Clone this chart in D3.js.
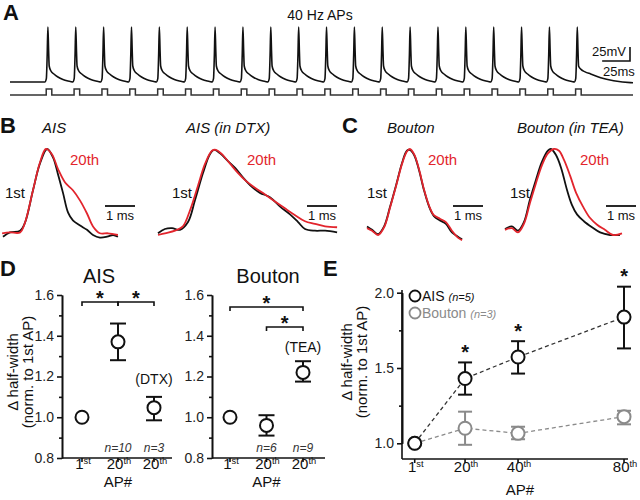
<!DOCTYPE html>
<html><head><meta charset="utf-8">
<script src="https://cdn.jsdelivr.net/npm/d3@7"></script>
<style>body{margin:0;background:#fff}svg{display:block}text{font-family:"Liberation Sans",Arial,Helvetica,sans-serif}</style>
</head><body><svg id="c" width="640" height="500"></svg>
<script>
// ---------------- DATA ----------------
// Panel A: 40 Hz train (ms of each AP peak), AP waveform pieces (ms rel. to peak, mV)
const spikeTimes = [0,25,50,75,100,125,150,175,200,225,250,275,300,325,350,375,400,425,450,475];
const restMV = -70;
const apRise  = [[-2.7,-70],[-1.4,-64],[-0.6,-20],[0,28],[0.63,-13],[1.17,-41.5]];
const apDecay = [[2.7,-50.4],[5.4,-55.7],[9,-61.1],[13.5,-65.5],[18,-68.2],[21.8,-69.8]];
const apTail  = [[3,-47],[7,-52],[12,-55.7],[21,-62.3],[32.6,-67.7],[47.8,-71.2],[50,-71.3]];
const stimWindow = [-1.5, 3.5];

// Panels B/C: normalized AP waveforms [ms, amplitude]
const aisFirst = [[0,-0.02],[0.23,0.03],[0.57,0.05],[0.73,0.14],[1.0,0.52],[1.23,0.83],[1.47,1.0],[1.67,0.9],[1.83,0.71],[2.0,0.49],[2.17,0.26],[2.33,0.17],[2.57,0.11],[2.8,0.06],[3.0,0.0],[3.23,-0.03],[3.47,-0.02],[3.67,0.0],[3.83,-0.02]];
const aisTwentieth = [[-0.03,0.02],[0.23,0.03],[0.57,0.03],[0.73,0.14],[1.0,0.52],[1.23,0.84],[1.43,1.0],[1.63,0.94],[1.83,0.77],[2.07,0.61],[2.33,0.52],[2.57,0.40],[2.8,0.25],[3.0,0.10],[3.23,0.02],[3.5,0.02],[3.83,0.0]];
const dtxFirst = [[0,0.02],[0.23,0.07],[0.47,0.08],[0.73,0.06],[1.0,0.15],[1.23,0.40],[1.5,0.72],[1.73,0.94],[1.87,0.99],[2.07,0.95],[2.33,0.86],[2.57,0.78],[2.83,0.67],[3.13,0.56],[3.4,0.49],[3.73,0.44],[4.07,0.33],[4.4,0.24],[4.67,0.15],[4.9,0.07],[5.23,0.05],[5.57,0.05],[5.97,0.03]];
const dtxTwentieth = [[0,0.0],[0.23,0.02],[0.57,0.05],[0.83,0.10],[1.07,0.29],[1.33,0.57],[1.57,0.83],[1.8,0.98],[1.93,0.99],[2.13,0.94],[2.4,0.83],[2.67,0.72],[2.93,0.63],[3.23,0.55],[3.57,0.47],[3.9,0.39],[4.23,0.31],[4.57,0.23],[4.9,0.16],[5.23,0.13],[5.57,0.10],[5.97,0.09]];
const boutonFirst = [[0,0.10],[0.17,0.06],[0.37,0.01],[0.57,0.10],[0.77,0.33],[0.97,0.58],[1.17,0.84],[1.33,0.98],[1.43,0.99],[1.57,0.93],[1.73,0.76],[1.9,0.52],[2.07,0.33],[2.23,0.22],[2.43,0.17],[2.63,0.13],[2.83,0.03],[3.03,-0.02],[3.17,-0.05]];
const boutonTwentieth = [[0,0.08],[0.17,0.05],[0.37,0.0],[0.57,0.09],[0.77,0.32],[0.97,0.57],[1.17,0.83],[1.33,0.97],[1.43,1.0],[1.57,0.94],[1.73,0.77],[1.9,0.53],[2.07,0.34],[2.23,0.23],[2.43,0.19],[2.63,0.15],[2.83,0.05],[3.03,-0.03],[3.17,-0.06]];
const teaFirst = [[0,0.07],[0.23,0.10],[0.43,0.05],[0.63,0.15],[0.83,0.41],[1.03,0.64],[1.23,0.85],[1.43,0.98],[1.53,1.0],[1.7,0.93],[1.87,0.78],[2.07,0.52],[2.23,0.35],[2.4,0.24],[2.63,0.16],[2.9,0.09],[3.17,0.03],[3.5,0.0],[3.83,0.0]];
const teaTwentieth = [[0,0.06],[0.23,0.08],[0.43,0.03],[0.63,0.13],[0.83,0.37],[1.03,0.60],[1.23,0.81],[1.43,0.95],[1.63,1.0],[1.8,0.98],[1.97,0.87],[2.17,0.69],[2.37,0.49],[2.6,0.33],[2.83,0.20],[3.07,0.12],[3.33,0.06],[3.6,0.0],[3.9,0.02]];

// Panel D
const dCategories = ["1st","20th","20th"];
const dTicks = [0.8,1.0,1.2,1.4,1.6];
const dMinorTicks = [0.9,1.1,1.3,1.5];
const dAisMean = [1.0, 1.37, 1.047];
const dAisLow  = [null, 1.28, 0.985];
const dAisHigh = [null, 1.46, 1.10];
const dAisN = ["", "n=10", "n=3"];
const dBoutonMean = [1.0, 0.96, 1.22];
const dBoutonLow  = [null, 0.91, 1.175];
const dBoutonHigh = [null, 1.01, 1.275];
const dBoutonN = ["", "n=6", "n=9"];

// Panel E
const eAPs = [1, 20, 40, 80];
const eLabels = ["1st","20th","40th","80th"];
const eTicks = [1.0, 1.5, 2.0];
const eMinorTicks = [1.25, 1.75];
const eAisMean = [1.0, 1.43, 1.573, 1.838];
const eAisLow  = [null, 1.323, 1.463, 1.63];
const eAisHigh = [null, 1.537, 1.678, 2.04];
const eBoutonMean = [1.0, 1.10, 1.066, 1.177];
const eBoutonLow  = [null, 0.99, 1.027, 1.126];
const eBoutonHigh = [null, 1.21, 1.11, 1.216];
const eStars = [false, true, true, true];

// ---------------- DRAW ----------------
const BLACK = "#111", RED = "#e2252d", GRAY = "#8a8a8a";
const svg = d3.select("#c");
svg.append("rect").attr("width",640).attr("height",500).attr("fill","#fff");

function txt(g, x, y, s, o = {}) {
  const t = g.append("text").attr("x", x).attr("y", y).text(s)
    .attr("font-size", o.size || 14).attr("fill", o.fill || BLACK)
    .attr("text-anchor", o.anchor || "start");
  if (o.bold) t.attr("font-weight", "bold");
  if (o.italic) t.attr("font-style", "italic");
  return t;
}
function supText(g, x, y, label, size, fill) {
  const m = label.match(/^(\d+)(\D+)$/);
  const t = g.append("text").attr("x", x).attr("y", y).attr("text-anchor", "middle")
    .attr("font-size", size).attr("fill", fill || BLACK);
  t.append("tspan").text(m[1]);
  t.append("tspan").attr("dy", -5).attr("font-size", size * 0.62).text(m[2]);
}
function star(g, cx, cy) {
  txt(g, cx, cy + 11.5, "*", {size: 20, bold: true, anchor: "middle"});
}

// ----- Panel A -----
const gA = svg.append("g");
txt(gA, 3, 20, "A", {size: 22, bold: true});
txt(gA, 320, 20, "40 Hz APs", {size: 14, anchor: "middle"});
const xA = d3.scaleLinear().domain([-34, 525]).range([10, 633]);
const yA = d3.scaleLinear().domain([restMV, 28]).range([82, 27]);
const trace = [[-34, restMV]];
spikeTimes.forEach((t, i) => {
  apRise.forEach(p => trace.push([t + p[0], p[1]]));
  (i === spikeTimes.length - 1 ? apTail : apDecay).forEach(p => trace.push([t + p[0], p[1]]));
});
gA.append("path").attr("d", d3.line().x(d => xA(d[0])).y(d => yA(d[1])).curve(d3.curveMonotoneX)(trace))
  .attr("fill", "none").attr("stroke", BLACK).attr("stroke-width", 1.6);
const yStim = d3.scaleLinear().domain([0, 1]).range([95, 89]);
const stim = [[-34, 0]];
spikeTimes.forEach(t => {
  stim.push([t + stimWindow[0], 0], [t + stimWindow[0], 1], [t + stimWindow[1], 1], [t + stimWindow[1], 0]);
});
stim.push([525, 0]);
gA.append("path").attr("d", d3.line().x(d => xA(d[0])).y(d => yStim(d[1]))(stim))
  .attr("fill", "none").attr("stroke", "#333").attr("stroke-width", 1.5);
// scale bars 25 mV / 25 ms
const sbX = 630, sbY = 61;
gA.append("path").attr("d", `M${sbX},${sbY - (yA(restMV) - yA(restMV + 25))}V${sbY}H${sbX - (xA(25) - xA(0))}`)
  .attr("fill", "none").attr("stroke", BLACK).attr("stroke-width", 1.6);
txt(gA, 626, 56, "25mV", {size: 13, anchor: "end"});
txt(gA, 603, 76, "25ms", {size: 13});

// ----- Panels B / C -----
const gB = svg.append("g");
txt(gB, 0, 133, "B", {size: 22, bold: true});
txt(gB, 342, 133, "C", {size: 22, bold: true});
const tracePanels = [
  {x0: 3,   title: "AIS",             tx: 42,  first: aisFirst,    twentieth: aisTwentieth,    l1: 5,   l20: 70,  bar: 105},
  {x0: 158, title: "AIS (in DTX)",    tx: 186, first: dtxFirst,    twentieth: dtxTwentieth,    l1: 172, l20: 247, bar: 307},
  {x0: 367, title: "Bouton",          tx: 387, first: boutonFirst, twentieth: boutonTwentieth, l1: 367, l20: 428, bar: 453},
  {x0: 505, title: "Bouton (in TEA)", tx: 517, first: teaFirst,    twentieth: teaTwentieth,    l1: 510, l20: 580, bar: 606}
];
tracePanels.forEach(p => {
  const x = d3.scaleLinear().domain([0, 1]).range([p.x0, p.x0 + 30]);
  const y = d3.scaleLinear().domain([0, 1]).range([235, 149]);
  const ln = d3.line().x(d => x(d[0])).y(d => y(d[1])).curve(d3.curveCatmullRom.alpha(0.5));
  gB.append("path").attr("d", ln(p.first)).attr("fill", "none").attr("stroke", BLACK).attr("stroke-width", 1.8);
  gB.append("path").attr("d", ln(p.twentieth)).attr("fill", "none").attr("stroke", RED).attr("stroke-width", 1.8);
  txt(gB, p.tx, 133, p.title, {size: 15, italic: true});
  txt(gB, p.l1, 198, "1st", {size: 15});
  txt(gB, p.l20, 165, "20th", {size: 15, fill: RED});
  const w = x(1) - x(0);
  gB.append("line").attr("x1", p.bar).attr("x2", p.bar + w).attr("y1", 206).attr("y2", 206)
    .attr("stroke", BLACK).attr("stroke-width", 1.8);
  txt(gB, p.bar + w / 2, 220, "1 ms", {size: 13, anchor: "middle"});
});

// ----- common axis styling -----
function styleAxis(sel) {
  sel.select(".domain").attr("stroke", BLACK).attr("stroke-width", 1.6);
  sel.selectAll(".tick line").attr("stroke", BLACK).attr("stroke-width", 1.6);
  sel.selectAll(".tick text").attr("font-size", 14).attr("fill", "#222")
    .attr("font-family", '"Liberation Sans",Arial,sans-serif');
}
function yTitle(g, x1, x2, cy) {
  txt(g, 0, 0, "\u0394 half-width", {size: 15, anchor: "middle"}).attr("transform", `translate(${x1},${cy}) rotate(-90)`);
  txt(g, 0, 0, "(norm. to 1st AP)", {size: 15, anchor: "middle"}).attr("transform", `translate(${x2},${cy}) rotate(-90)`);
}
function errorBars(g, xs, mean, lo, hi, color, cap, r) {
  mean.forEach((m, i) => {
    if (lo[i] !== null) {
      g.append("line").attr("x1", xs[i]).attr("x2", xs[i]).attr("y1", hi[1][i]).attr("y2", lo[1][i])
        .attr("stroke", color).attr("stroke-width", 2);
      [hi[1][i], lo[1][i]].forEach(yy => g.append("line").attr("x1", xs[i] - cap).attr("x2", xs[i] + cap)
        .attr("y1", yy).attr("y2", yy).attr("stroke", color).attr("stroke-width", 2));
    }
  });
  mean.forEach((m, i) => {
    g.append("circle").attr("cx", xs[i]).attr("cy", m).attr("r", r)
      .attr("fill", "#fff").attr("stroke", color).attr("stroke-width", 2);
  });
}

// ----- Panel D -----
const gD = svg.append("g");
txt(gD, 0, 276, "D", {size: 22, bold: true});
yTitle(gD, 18, 33, 372);
const yD = d3.scaleLinear().domain([0.8, 1.6]).range([458, 295]);
function drawD(cfg) {
  const x = d3.scalePoint().domain(d3.range(dCategories.length)).range(cfg.xr);
  const g = gD.append("g");
  g.append("g").attr("transform", `translate(${cfg.ax},0)`)
    .call(d3.axisLeft(yD).tickValues(dTicks).tickFormat(d3.format(".1f")).tickSize(5).tickSizeOuter(0).tickPadding(3))
    .call(styleAxis);
  g.append("g").attr("transform", `translate(${cfg.ax},0)`)
    .call(d3.axisLeft(yD).tickValues(dMinorTicks).tickFormat("").tickSize(3).tickSizeOuter(0))
    .call(styleAxis);
  g.append("line").attr("x1", cfg.ax).attr("x2", cfg.xend).attr("y1", yD(0.8)).attr("y2", yD(0.8))
    .attr("stroke", BLACK).attr("stroke-width", 1.6);
  dCategories.forEach((c, i) => {
    g.append("line").attr("x1", x(i)).attr("x2", x(i)).attr("y1", yD(0.8)).attr("y2", yD(0.8) + 4)
      .attr("stroke", BLACK).attr("stroke-width", 1.6);
    supText(g, x(i) + 1, 469, c, 15);
    if (cfg.n[i]) txt(g, x(i), 452, cfg.n[i], {size: 12, italic: true, anchor: "middle", fill: "#333"});
  });
  txt(g, x(1), 487, "AP#", {size: 15, anchor: "middle"});
  txt(g, cfg.titleX, 283, cfg.title, {size: 20, anchor: "middle"});
  const xs = dCategories.map((c, i) => x(i));
  errorBars(g, xs, cfg.mean.map(v => yD(v)), [null, cfg.lo.map(v => v === null ? null : yD(v))],
    [null, cfg.hi.map(v => v === null ? null : yD(v))], BLACK, 8, 6.5);
  txt(g, x(2), cfg.drugY, cfg.drug, {size: 14, anchor: "middle"});
  cfg.brackets.forEach(b => {
    g.append("path").attr("d", `M${x(b[0])},${b[2] + 4}V${b[2]}H${x(b[1])}V${b[2] + 4}`)
      .attr("fill", "none").attr("stroke", BLACK).attr("stroke-width", 1.6);
    star(g, (x(b[0]) + x(b[1])) / 2, b[2] - 9);
  });
}
drawD({ax: 62, xend: 172, xr: [82, 154], title: "AIS", titleX: 99, mean: dAisMean, lo: dAisLow, hi: dAisHigh,
  n: dAisN, drug: "(DTX)", drugY: 384, brackets: [[0, 1, 302], [1, 2, 302]]});
drawD({ax: 212, xend: 325, xr: [230, 303], title: "Bouton", titleX: 268, mean: dBoutonMean, lo: dBoutonLow, hi: dBoutonHigh,
  n: dBoutonN, drug: "(TEA)", drugY: 352, brackets: [[0, 2, 307], [1, 2, 327]]});

// ----- Panel E -----
const gE = svg.append("g");
txt(gE, 323, 276, "E", {size: 22, bold: true});
yTitle(gE, 352, 367, 362);
const xE = d3.scaleLinear().domain([-3.8, 81.5]).range([402, 628]);
const yE = d3.scaleLinear().domain([1, 2]).range([443.3, 292.7]);
gE.append("g").attr("transform", "translate(402,0)")
  .call(d3.axisLeft(yE).tickValues(eTicks).tickFormat(d3.format(".1f")).tickSize(5).tickSizeOuter(0).tickPadding(3))
  .call(styleAxis);
gE.append("g").attr("transform", "translate(402,0)")
  .call(d3.axisLeft(yE).tickValues(eMinorTicks).tickFormat("").tickSize(3).tickSizeOuter(0))
  .call(styleAxis);
gE.append("line").attr("x1", 402).attr("x2", 402).attr("y1", 290).attr("y2", 459).attr("stroke", BLACK).attr("stroke-width", 1.6);
gE.append("line").attr("x1", 402).attr("x2", 628).attr("y1", 459).attr("y2", 459).attr("stroke", BLACK).attr("stroke-width", 1.6);
eAPs.forEach((a, i) => {
  gE.append("line").attr("x1", xE(a)).attr("x2", xE(a)).attr("y1", 459).attr("y2", 463).attr("stroke", BLACK).attr("stroke-width", 1.6);
  supText(gE, xE(a) + 1, 472, eLabels[i], 15);
});
txt(gE, 520, 495, "AP#", {size: 15, anchor: "middle"});
const lnE = d3.line().x((d, i) => xE(eAPs[i])).y(d => yE(d));
gE.append("path").attr("d", lnE(eBoutonMean)).attr("fill", "none").attr("stroke", GRAY).attr("stroke-width", 1.3).attr("stroke-dasharray", "4,3");
gE.append("path").attr("d", lnE(eAisMean)).attr("fill", "none").attr("stroke", "#333").attr("stroke-width", 1.3).attr("stroke-dasharray", "4,3");
const xsE = eAPs.map(a => xE(a));
errorBars(gE, xsE, eBoutonMean.map(v => yE(v)), [null, eBoutonLow.map(v => v === null ? null : yE(v))],
  [null, eBoutonHigh.map(v => v === null ? null : yE(v))], GRAY, 7, 6.5);
errorBars(gE, xsE, eAisMean.map(v => yE(v)), [null, eAisLow.map(v => v === null ? null : yE(v))],
  [null, eAisHigh.map(v => v === null ? null : yE(v))], BLACK, 7, 6.5);
eStars.forEach((s, i) => { if (s) star(gE, xE(eAPs[i]), yE(eAisHigh[i]) - 15); });
// legend
gE.append("circle").attr("cx", 415).attr("cy", 296).attr("r", 5.5).attr("fill", "#fff").attr("stroke", BLACK).attr("stroke-width", 1.8);
gE.append("circle").attr("cx", 415).attr("cy", 313).attr("r", 5.5).attr("fill", "#fff").attr("stroke", GRAY).attr("stroke-width", 1.8);
const lg1 = txt(gE, 422, 301, "AIS ", {size: 14});
lg1.append("tspan").attr("font-style", "italic").attr("font-size", 11).text("(n=5)");
const lg2 = txt(gE, 422, 318, "Bouton ", {size: 14, fill: GRAY});
lg2.append("tspan").attr("font-style", "italic").attr("font-size", 11).text("(n=3)");
</script></body></html>
